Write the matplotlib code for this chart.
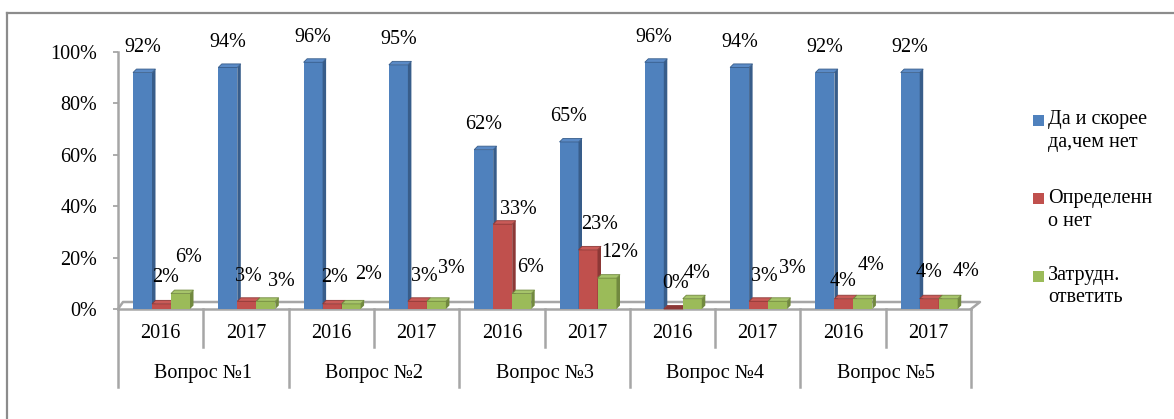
import matplotlib
matplotlib.use("Agg")
import matplotlib.pyplot as plt
from matplotlib.patches import Polygon, Rectangle
from matplotlib.lines import Line2D
import numpy as np

# ---- data ----
questions = ["Вопрос №1", "Вопрос №2", "Вопрос №3", "Вопрос №4", "Вопрос №5"]
years = ["2016", "2017"]
series_names = ["Да и скорее\nда,чем нет", "Определенн\nо нет", "Затрудн.\nответить"]
yes_vals = [92, 94, 96, 95, 62, 65, 96, 94, 92, 92]
no_vals = [2, 3, 2, 3, 33, 23, 0, 3, 4, 4]
hard_vals = [6, 3, 2, 3, 6, 12, 4, 3, 4, 4]
y_ticks = [0, 20, 40, 60, 80, 100]

# ---- style ----
colors = ["#4F81BD", "#C0504D", "#9BBB59"]
side_colors = ["#385D8A", "#8C3836", "#71893F"]
top_colors = ["#5A8AC6", "#C95B58", "#A6C46A"]
# label offsets in pixels (dx, dy above bar top)
lab_off = [
    [(0, 25)] * 10,
    [(4, 26), (2, 25), (2, 26), (7, 25), (16, 15), (12, 25), (2, 26), (6, 25), (-1, 17), (0, 26)],
    [(8, 36), (16, 20), (17, 29), (15, 33), (9, 26), (13, 26), (5, 25), (15, 33), (8, 33), (18, 27)],
]
FS = 14.5
FONT = "Liberation Serif"
plt.rcParams["font.family"] = [FONT, "DejaVu Serif"]

W, H = 1174, 419
fig = plt.figure(figsize=(W / 100, H / 100), dpi=100)
x0, x1, ybot, ytop = 118, 971, 309, 52
ax = fig.add_axes([x0 / W, (H - ybot) / H, (x1 - x0) / W, (ybot - ytop) / H])
nslots = len(yes_vals)
ax.set_xlim(0, nslots)
ax.set_ylim(0, 100)

px_x = nslots / (x1 - x0)   # data per px
px_y = 100 / (ybot - ytop)

# outer frame
fig.add_artist(Line2D([7 / W, 7 / W], [0, 1 - 13 / H], color="#8C8C8C", lw=1.6))
fig.add_artist(Line2D([7 / W, 1], [1 - 13 / H, 1 - 13 / H], color="#8C8C8C", lw=1.6))

# floor
fd_x0, fd_x1, fd_y = 5 * px_x, 9 * px_x, 7 * px_y
gray = "#A6A6A6"
ax.add_line(Line2D([0, fd_x0, nslots + fd_x1, nslots], [0, fd_y, fd_y, 0], color=gray, lw=1.8, clip_on=False, zorder=1))
ax.add_line(Line2D([0, nslots], [0, 0], color=gray, lw=1.8, clip_on=False, zorder=1))

# bars
bw = 19 * px_x
offs = [15 * px_x, 34 * px_x, 53 * px_x]
ddx, ddy = 3.5 * px_x, 3.5 * px_y
all_vals = [yes_vals, no_vals, hard_vals]
xs = np.arange(nslots)
for s, vals in enumerate(all_vals):
    lefts = xs + offs[s]
    ax.bar(lefts, vals, width=bw, align="edge", color=colors[s], edgecolor="none", zorder=3 + s)
    for i, v in enumerate(vals):
        l = lefts[i]
        r = l + bw
        side = Polygon([(r, 0), (r + ddx, ddy), (r + ddx, v + ddy), (r, v)], closed=True,
                       facecolor=side_colors[s], edgecolor="none", zorder=3 + s, clip_on=False)
        top = Polygon([(l, v), (l + ddx, v + ddy), (r + ddx, v + ddy), (r, v)], closed=True,
                      facecolor=top_colors[s] if v > 0 else side_colors[s], edgecolor=side_colors[s],
                      lw=0.6, zorder=3 + s, clip_on=False)
        ax.add_patch(side)
        ax.add_patch(top)
        dx, dy = lab_off[s][i]
        ax.annotate(f"{v}%", xy=(l + bw / 2, v), xytext=(dx * 0.72, dy * 0.72),
                    textcoords="offset points", ha="center", va="center",
                    fontsize=FS, family=FONT, color="black", zorder=10, annotation_clip=False)

# axes styling
for sp in ["top", "right", "bottom"]:
    ax.spines[sp].set_visible(False)
ax.spines["left"].set_color(gray)
ax.spines["left"].set_linewidth(1.8)
ax.set_yticks(y_ticks)
ax.set_yticklabels([f"{t}%" for t in y_ticks], fontsize=FS, family=FONT)
ax.tick_params(axis="y", direction="out", length=3.6, width=1.3, color=gray, pad=11.5)
ax.set_xticks([])
ax.patch.set_alpha(0)

# category axis (two-level)
for i in range(nslots):
    ax.annotate(years[i % 2], xy=(i + 0.5, 0), xytext=(0, -24 * 0.72), textcoords="offset points",
                ha="center", va="center", fontsize=FS, family=FONT, annotation_clip=False)
for g, q in enumerate(questions):
    ax.annotate(q, xy=(2 * g + 1, 0), xytext=(0, -64 * 0.72), textcoords="offset points",
                ha="center", va="center", fontsize=FS, family=FONT, annotation_clip=False)
trans = ax.get_xaxis_transform()
for b in range(nslots + 1):
    depth = 78 if b % 2 == 0 else 38
    ax.add_line(Line2D([b, b], [0, -depth / (ybot - ytop)], transform=trans, color=gray, lw=1.8, clip_on=False))

# legend (manual)
leg_y = [120, 199, 276]
for s in range(3):
    yc = leg_y[s]
    fig.add_artist(Rectangle((1033 / W, 1 - (yc + 5.5) / H), 11 / W, 11 / H, transform=fig.transFigure,
                             facecolor=colors[s], edgecolor="none"))
    fig.text(1048 / W, 1 - (yc - 10) / H, series_names[s], ha="left", va="top", fontsize=FS,
             family=FONT, linespacing=1.25)

fig.savefig("out.png", dpi=100)
